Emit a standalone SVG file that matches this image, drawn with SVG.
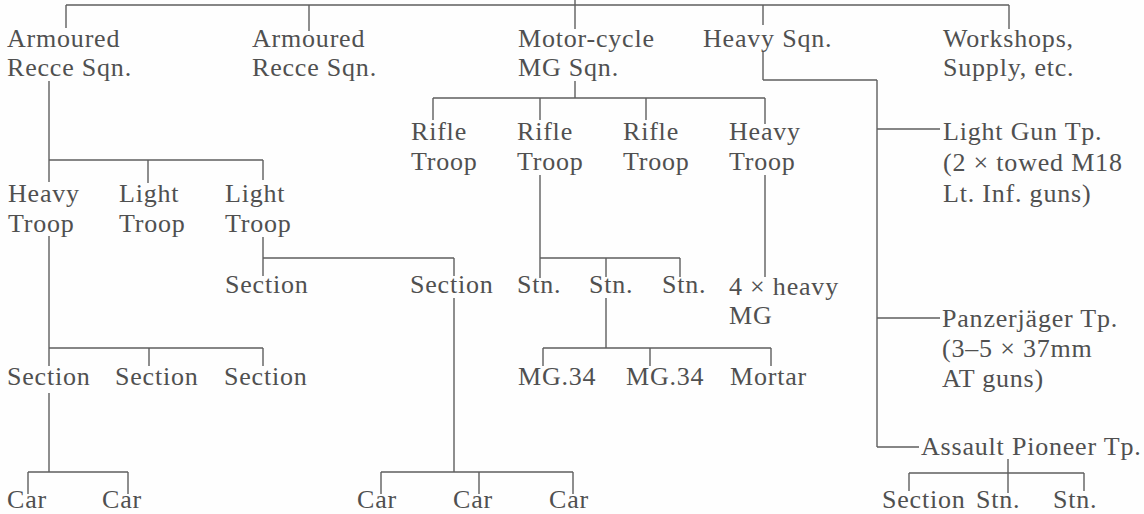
<svg xmlns="http://www.w3.org/2000/svg" width="1144" height="514" viewBox="0 0 1144 514">
<style>
text { font-family: "Liberation Serif", "Times New Roman", serif; font-size: 26px; letter-spacing: 0.8px; fill: #505050; }
.c line { stroke: #5e5e5e; stroke-width: 1.4; fill: none; }
</style>
<rect width="1144" height="514" fill="#fefefe"/>
<g class="c" id="connectors">
<line x1="575" y1="0" x2="575" y2="5"/>
<line x1="66" y1="5" x2="1009" y2="5"/>
<line x1="66" y1="5" x2="66" y2="28"/>
<line x1="309" y1="5" x2="309" y2="31"/>
<line x1="575" y1="5" x2="575" y2="29"/>
<line x1="763" y1="5" x2="763" y2="25"/>
<line x1="1009" y1="5" x2="1009" y2="29"/>
<line x1="763" y1="52" x2="763" y2="80"/>
<line x1="763" y1="80" x2="877" y2="80"/>
<line x1="877" y1="80" x2="877" y2="447"/>
<line x1="877" y1="129" x2="940" y2="129"/>
<line x1="877" y1="318" x2="940" y2="318"/>
<line x1="877" y1="447" x2="919" y2="447"/>
<line x1="1008" y1="459" x2="1008" y2="493"/>
<line x1="909" y1="473" x2="1084" y2="473"/>
<line x1="909" y1="473" x2="909" y2="491"/>
<line x1="1084" y1="473" x2="1084" y2="491"/>
<line x1="49" y1="81" x2="49" y2="182"/>
<line x1="49" y1="160" x2="263" y2="160"/>
<line x1="148" y1="160" x2="148" y2="183"/>
<line x1="263" y1="160" x2="263" y2="180"/>
<line x1="49" y1="236" x2="49" y2="366"/>
<line x1="49" y1="348" x2="263" y2="348"/>
<line x1="149" y1="348" x2="149" y2="366"/>
<line x1="263" y1="348" x2="263" y2="366"/>
<line x1="49" y1="393" x2="49" y2="472"/>
<line x1="28" y1="472" x2="128" y2="472"/>
<line x1="28" y1="472" x2="28" y2="494"/>
<line x1="128" y1="472" x2="128" y2="494"/>
<line x1="263" y1="237" x2="263" y2="276"/>
<line x1="263" y1="258" x2="454" y2="258"/>
<line x1="454" y1="258" x2="454" y2="276"/>
<line x1="454" y1="298" x2="454" y2="472"/>
<line x1="381" y1="472" x2="573" y2="472"/>
<line x1="381" y1="472" x2="381" y2="494"/>
<line x1="479" y1="472" x2="479" y2="494"/>
<line x1="573" y1="472" x2="573" y2="494"/>
<line x1="575" y1="81" x2="575" y2="98"/>
<line x1="433" y1="98" x2="765" y2="98"/>
<line x1="433" y1="98" x2="433" y2="120"/>
<line x1="540" y1="98" x2="540" y2="120"/>
<line x1="646" y1="98" x2="646" y2="120"/>
<line x1="765" y1="98" x2="765" y2="124"/>
<line x1="765" y1="175" x2="765" y2="277"/>
<line x1="540" y1="175" x2="540" y2="278"/>
<line x1="540" y1="258" x2="680" y2="258"/>
<line x1="606" y1="258" x2="606" y2="277"/>
<line x1="680" y1="258" x2="680" y2="277"/>
<line x1="606" y1="298" x2="606" y2="348"/>
<line x1="543" y1="348" x2="771" y2="348"/>
<line x1="543" y1="348" x2="543" y2="366"/>
<line x1="650" y1="348" x2="650" y2="366"/>
<line x1="771" y1="348" x2="771" y2="366"/>
</g>
<g id="sqn-armoured-1"><text x="7" y="47">Armoured</text><text x="7" y="76">Recce Sqn.</text></g>
<g id="sqn-armoured-2"><text x="252" y="47">Armoured</text><text x="252" y="76">Recce Sqn.</text></g>
<g id="sqn-motorcycle"><text x="518" y="47">Motor-cycle</text><text x="518" y="76">MG Sqn.</text></g>
<g id="sqn-heavy"><text x="703" y="47">Heavy Sqn.</text></g>
<g id="workshops"><text x="943" y="47">Workshops,</text><text x="943" y="76">Supply, etc.</text></g>
<g id="rifle-1"><text x="411" y="140">Rifle</text><text x="411" y="170">Troop</text></g>
<g id="rifle-2"><text x="517" y="140">Rifle</text><text x="517" y="170">Troop</text></g>
<g id="rifle-3"><text x="623" y="140">Rifle</text><text x="623" y="170">Troop</text></g>
<g id="mg-heavy-troop"><text x="729" y="140">Heavy</text><text x="729" y="170">Troop</text></g>
<g id="light-gun"><text x="943" y="140">Light Gun Tp.</text><text x="943" y="171">(2 × towed M18</text><text x="943" y="202">Lt. Inf. guns)</text></g>
<g id="heavy-troop"><text x="8" y="202">Heavy</text><text x="8" y="232">Troop</text></g>
<g id="light-troop-1"><text x="119" y="202">Light</text><text x="119" y="232">Troop</text></g>
<g id="light-troop-2"><text x="225" y="202">Light</text><text x="225" y="232">Troop</text></g>
<g id="lt-section-1"><text x="225" y="293">Section</text></g>
<g id="lt-section-2"><text x="410" y="293">Section</text></g>
<g id="stn-1"><text x="517" y="293">Stn.</text></g>
<g id="stn-2"><text x="589" y="293">Stn.</text></g>
<g id="stn-3"><text x="662" y="293">Stn.</text></g>
<g id="heavy-mg"><text x="729" y="295">4 × heavy</text><text x="729" y="324">MG</text></g>
<g id="ht-section-1"><text x="7" y="385">Section</text></g>
<g id="ht-section-2"><text x="115" y="385">Section</text></g>
<g id="ht-section-3"><text x="224" y="385">Section</text></g>
<g id="mg34-1"><text x="518" y="385">MG.34</text></g>
<g id="mg34-2"><text x="626" y="385">MG.34</text></g>
<g id="mortar"><text x="730" y="385">Mortar</text></g>
<g id="panzerjaeger"><text x="942" y="327">Panzerjäger Tp.</text><text x="942" y="357">(3–5 × 37mm</text><text x="942" y="387">AT guns)</text></g>
<g id="assault-pioneer"><text x="921" y="455">Assault Pioneer Tp.</text></g>
<g id="car-1"><text x="7" y="508">Car</text></g>
<g id="car-2"><text x="102" y="508">Car</text></g>
<g id="car-3"><text x="357" y="508">Car</text></g>
<g id="car-4"><text x="453" y="508">Car</text></g>
<g id="car-5"><text x="549" y="508">Car</text></g>
<g id="ap-section"><text x="882" y="508">Section</text></g>
<g id="ap-stn-1"><text x="976" y="508">Stn.</text></g>
<g id="ap-stn-2"><text x="1053" y="508">Stn.</text></g>
</svg>
